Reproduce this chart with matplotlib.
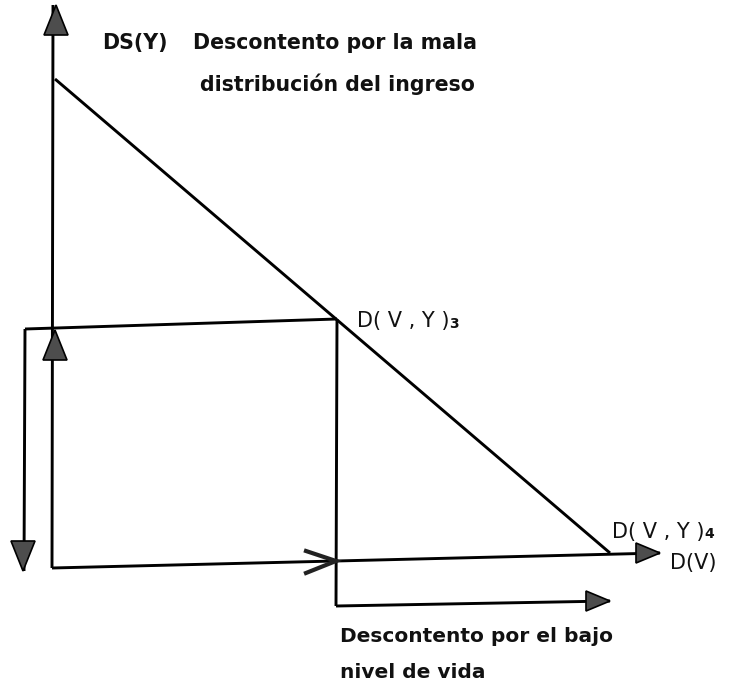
import matplotlib
matplotlib.use('Agg')

import numpy as np
import matplotlib.pyplot as plt
import matplotlib.patches as patches

# diagram geometry (pixel coords, y grows downward)
y_axis_x = [52, 53]
y_axis_y = [568, 5]
x_axis_x = [52, 660]
x_axis_y = [568, 553]
curve_x = [55, 610]
curve_y = [79, 553]
rect_top_x = [25, 337]
rect_top_y = [329, 319]
rect_right_x = [337, 336]
rect_right_y = [319, 606]
left_down_x = [25, 24]
left_down_y = [329, 571]
bottom_arrow_x = [336, 610]
bottom_arrow_y = [606, 601]

# filled arrowheads: tip x, tip y, direction
head_tips_x = [56, 55, 23, 660, 610]
head_tips_y = [5, 330, 571, 553, 601]
head_dirs = ['up', 'up', 'down', 'right', 'right']

# open chevron on the income axis
chevron_x = 336
chevron_y = 561

labels_top = ['DS(Y)', 'Descontento por la mala', 'distribución del ingreso']
labels_bottom = ['Descontento por el bajo', 'nivel de vida']
point_labels = ['D( V , Y )', 'D( V , Y )']
point_subs = ['3', '4']
axis_label = 'D(V)'


def arrow_head(ax, x, y, direction, length=28, width=24):
    vec = {'up': (0, -1), 'down': (0, 1), 'right': (1, 0), 'left': (-1, 0)}[direction]
    dx, dy = vec
    bx, by = x - dx * length, y - dy * length
    px, py = -dy, dx
    pts = [(x, y),
           (bx + px * width / 2, by + py * width / 2),
           (bx - px * width / 2, by - py * width / 2)]
    ax.add_patch(patches.Polygon(pts, closed=True, facecolor='#4d4d4d',
                                 edgecolor='black', linewidth=1.2, zorder=4))


fig = plt.figure(figsize=(7.36, 7.0), dpi=100)
ax = fig.add_axes([0, 0, 1, 1])
ax.set_xlim(0, 736)
ax.set_ylim(700, 0)
ax.axis('off')

lw = 2.1
for xs, ys in [(y_axis_x, y_axis_y), (x_axis_x, x_axis_y), (curve_x, curve_y),
               (rect_top_x, rect_top_y), (rect_right_x, rect_right_y),
               (left_down_x, left_down_y), (bottom_arrow_x, bottom_arrow_y)]:
    ax.plot(xs, ys, color='black', linewidth=lw, solid_capstyle='butt', zorder=3)

for i in range(len(head_tips_x)):
    if head_dirs[i] == 'right':
        arrow_head(ax, head_tips_x[i], head_tips_y[i], head_dirs[i], length=24, width=20)
    else:
        arrow_head(ax, head_tips_x[i], head_tips_y[i], head_dirs[i], length=30, width=24)

ax.plot([chevron_x - 30, chevron_x, chevron_x - 30],
        [chevron_y - 10, chevron_y, chevron_y + 12],
        color='#222222', linewidth=3.0, solid_joinstyle='miter', zorder=4)

bold = dict(fontsize=14.8, fontweight='bold', color='#111111', va='center', ha='left')
ax.text(102, 43, labels_top[0], **bold)
ax.text(193, 43, labels_top[1], **bold)
ax.text(200, 84, labels_top[2], **bold)
bold['fontsize'] = 14.5
ax.text(340, 637, labels_bottom[0], **bold)
ax.text(340, 673, labels_bottom[1], **bold)

plain = dict(fontsize=15, color='#111111', va='center', ha='left')
ax.text(357, 321, point_labels[0], **plain)
ax.text(449, 324, point_subs[0], fontsize=10, fontweight='bold', color='#111111',
        va='center', ha='left')
ax.text(612, 532, point_labels[1], **plain)
ax.text(704, 534, point_subs[1], fontsize=10, fontweight='bold', color='#111111',
        va='center', ha='left')
ax.text(670, 563, axis_label, **plain)

plt.savefig('out.png', dpi=100, facecolor='white')
plt.close()
